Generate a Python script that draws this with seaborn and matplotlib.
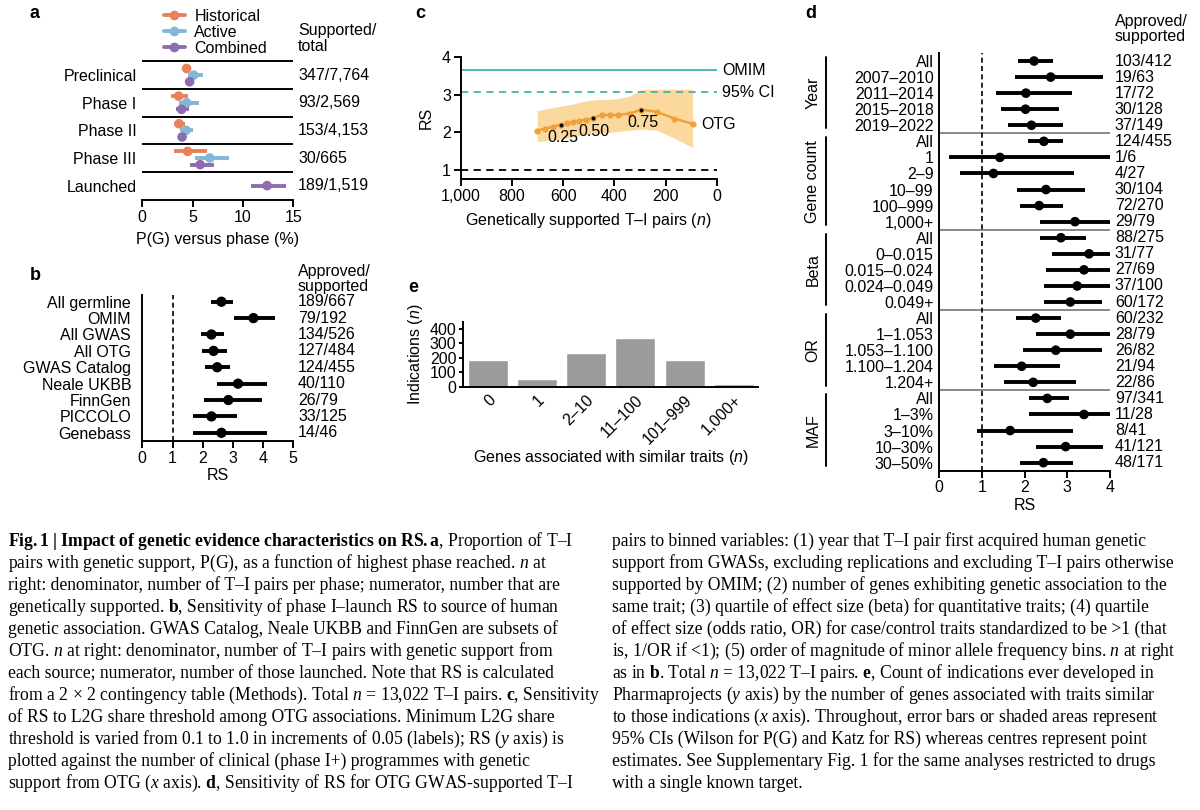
import matplotlib
matplotlib.use("Agg")
import matplotlib.pyplot as plt
import matplotlib.transforms as mtransforms
from matplotlib.lines import Line2D
import seaborn as sns
import pandas as pd

# ---- panel a: P(G) versus phase ----
a_rows = ["Preclinical", "Phase I", "Phase II", "Phase III", "Launched"]
a_counts = ["347/7,764", "93/2,569", "153/4,153", "30/665", "189/1,519"]
a_phase = ["Preclinical"] * 3 + ["Phase I"] * 3 + ["Phase II"] * 3 + ["Phase III"] * 3 + ["Launched"]
a_series = ["Historical", "Active", "Combined"] * 4 + ["Combined"]
a_est = [4.4, 5.1, 4.7, 3.6, 4.4, 3.9, 3.65, 4.35, 3.95, 4.5, 6.7, 5.75, 12.4]
a_lo = [4.0, 4.5, 4.4, 2.9, 3.6, 3.3, 3.1, 3.7, 3.6, 3.1, 5.2, 4.7, 10.8]
a_hi = [4.8, 6.0, 4.95, 4.5, 5.6, 4.6, 4.2, 5.0, 4.3, 6.45, 8.6, 7.1, 14.3]
a_xticks = [0, 5, 10, 15]

# ---- panel b: RS by source ----
b_src = ["All germline", "OMIM", "All GWAS", "All OTG", "GWAS Catalog",
         "Neale UKBB", "FinnGen", "PICCOLO", "Genebass"]
b_counts = ["189/667", "79/192", "134/526", "127/484", "124/455", "40/110", "26/79", "33/125", "14/46"]
b_est = [2.62, 3.68, 2.29, 2.36, 2.48, 3.17, 2.85, 2.29, 2.62]
b_lo = [2.27, 3.05, 1.93, 1.99, 2.07, 2.48, 2.04, 1.67, 1.67]
b_hi = [3.01, 4.40, 2.70, 2.80, 2.90, 4.12, 3.95, 3.12, 4.12]

# ---- panel c: RS vs L2G share threshold ----
c_thresh = [0.10, 0.15, 0.20, 0.25, 0.30, 0.35, 0.40, 0.45, 0.50,
            0.55, 0.60, 0.65, 0.70, 0.75, 0.80, 0.85, 0.90]
c_n = [701, 671, 641, 608, 583, 560, 537, 511, 484, 449, 417, 384, 339, 296, 234, 166, 94]
c_rs = [2.05, 2.10, 2.15, 2.21, 2.24, 2.27, 2.31, 2.34, 2.38, 2.47, 2.46, 2.47, 2.50, 2.61, 2.55, 2.37, 2.23]
c_lo = [1.76, 1.78, 1.80, 1.82, 1.85, 1.88, 1.92, 1.95, 1.97, 1.98, 2.00, 2.03, 2.06, 2.09, 2.06, 1.85, 1.60]
c_hi = [2.58, 2.62, 2.66, 2.70, 2.73, 2.76, 2.80, 2.84, 2.86, 2.88, 2.88, 2.90, 2.97, 3.13, 3.15, 3.15, 3.15]
c_labelled = [0.25, 0.50, 0.75]
c_omim = 3.66
c_omim_ci = 3.07
c_xticks = [1000, 800, 600, 400, 200, 0]

# ---- panel d: RS by binned variables ----
d_group = ["Year"] * 5 + ["Gene count"] * 6 + ["Beta"] * 5 + ["OR"] * 5 + ["MAF"] * 5
d_label = ["All", "2007–2010", "2011–2014", "2015–2018", "2019–2022",
           "All", "1", "2–9", "10–99", "100–999", "1,000+",
           "All", "0–0.015", "0.015–0.024", "0.024–0.049", "0.049+",
           "All", "1–1.053", "1.053–1.100", "1.100–1.204", "1.204+",
           "All", "1–3%", "3–10%", "10–30%", "30–50%"]
d_counts = ["103/412", "19/63", "17/72", "30/128", "37/149",
            "124/455", "1/6", "4/27", "30/104", "72/270", "29/79",
            "88/275", "31/77", "27/69", "37/100", "60/172",
            "60/232", "28/79", "26/82", "21/94", "22/86",
            "97/341", "11/28", "8/41", "41/121", "48/171"]
d_est = [2.22, 2.61, 2.03, 2.02, 2.16, 2.45, 1.42, 1.27, 2.50, 2.34, 3.18, 2.85, 3.51,
         3.39, 3.23, 3.07, 2.26, 3.07, 2.73, 1.93, 2.20, 2.53, 3.39, 1.66, 2.96, 2.44]
d_lo = [1.85, 1.77, 1.32, 1.45, 1.60, 2.07, 0.23, 0.48, 1.81, 1.89, 2.36, 2.36, 2.65,
        2.49, 2.46, 2.46, 1.79, 2.26, 1.97, 1.29, 1.52, 2.11, 2.11, 0.88, 2.26, 1.89]
d_hi = [2.67, 3.83, 3.12, 2.81, 2.89, 2.89, 8.5, 3.16, 3.41, 2.91, 4.3, 3.43, 4.6,
        4.6, 4.2, 3.82, 2.85, 4.2, 3.82, 2.83, 3.20, 3.03, 5.4, 3.14, 3.83, 3.14]

# ---- panel e: indications by gene count ----
e_bins = ["0", "1", "2–10", "11–100", "101–999", "1,000+"]
e_count = [184, 55, 230, 334, 184, 19]

sns.set_theme(style="ticks", rc={
    "axes.edgecolor": "black", "text.color": "black", "axes.labelcolor": "black",
    "xtick.color": "black", "ytick.color": "black",
    "axes.linewidth": 1.4, "xtick.major.width": 1.4, "ytick.major.width": 1.4,
    "xtick.major.size": 5, "ytick.major.size": 5,
})
plt.rcParams["font.family"] = ["Liberation Sans", "DejaVu Sans"]
plt.rcParams.update({
    "mathtext.fontset": "custom",
    "mathtext.rm": "Liberation Serif",
    "mathtext.it": "Liberation Serif:italic",
    "mathtext.bf": "Liberation Serif:bold",
    "mathtext.sf": "Liberation Sans:italic",
})
FS = 11.5

W, H = 1200, 810
fig = plt.figure(figsize=(12, 8.1), dpi=100)


def px_axes(l, t, r, b):
    return fig.add_axes([l / W, 1 - b / H, (r - l) / W, (b - t) / H])


def blend(ax):
    return mtransforms.blended_transform_factory(ax.transAxes, ax.transData)


def ftext(x, y, s, **kw):
    return fig.text(x / W, 1 - y / H, s, **kw)


# ================= a =================
ax_a = px_axes(142.3, 61.3, 293.3, 200)
a_colors = {"Historical": "#E9825B", "Active": "#83B7D8", "Combined": "#8E6CB0"}
shift = {"Historical": -0.24, "Active": 0.0, "Combined": 0.24}
df_a = pd.DataFrame({"phase": a_phase, "series": a_series, "est": a_est, "lo": a_lo, "hi": a_hi})
df_a["y"] = [a_rows.index(p) + (shift[s] if a_phase.count(p) > 1 else 0)
             for p, s in zip(a_phase, a_series)]
ax_a.hlines(df_a["y"], df_a["lo"], df_a["hi"], colors=[a_colors[s] for s in a_series], lw=2.8, zorder=2)
sns.scatterplot(data=df_a, x="est", y="y", hue="series", palette=a_colors, s=48,
                edgecolor="none", legend=False, ax=ax_a, zorder=3)
ax_a.hlines([-0.5, 0.5, 1.5, 2.5, 3.5], 0, 15, color="black", lw=1.4, clip_on=False)
ax_a.set_xlim(0, 15)
ax_a.set_ylim(4.52, -0.5)
ax_a.set_yticks(range(len(a_rows)), a_rows)
ax_a.set_xticks(a_xticks)
ax_a.set_xlabel("P(G) versus phase (%)", fontsize=FS, labelpad=5)
ax_a.set_ylabel("")
sns.despine(ax=ax_a, left=True)
ax_a.tick_params(axis="y", length=0, pad=4, labelsize=FS)
ax_a.tick_params(axis="x", labelsize=FS, pad=2)
for i, t in enumerate(a_counts):
    ax_a.text(1.031, i, t, transform=blend(ax_a), va="center", fontsize=FS)
ftext(298, 23, "Supported/\ntotal", va="top", fontsize=FS, linespacing=1.1)
handles = [Line2D([0], [0], color=a_colors[k], marker="o", lw=2.8, ms=7, mec="none") for k in a_colors]
fig.legend(handles, list(a_colors), loc="upper left", bbox_to_anchor=(164 / W, 1 - 9 / H),
           frameon=False, fontsize=FS, handlelength=1.3, handletextpad=0.6,
           labelspacing=0.05, borderpad=0, borderaxespad=0)

# ================= b =================
ax_b = px_axes(142.3, 295, 293.3, 441)
df_b = pd.DataFrame({"src": b_src, "est": b_est, "lo": b_lo, "hi": b_hi, "y": range(len(b_src))})
ax_b.axvline(1, color="black", lw=1.2, ls=(0, (3, 2)))
ax_b.hlines(df_b["y"], df_b["lo"], df_b["hi"], color="black", lw=2.8, zorder=2)
sns.scatterplot(data=df_b, x="est", y="y", color="black", s=55, edgecolor="none", ax=ax_b, zorder=3)
ax_b.set_xlim(0, 5)
ax_b.set_ylim(8.5, -0.41)
ax_b.set_yticks(range(len(b_src)), b_src)
ax_b.set_xticks(range(6))
ax_b.set_xlabel("RS", fontsize=FS, labelpad=2)
ax_b.set_ylabel("")
sns.despine(ax=ax_b)
ax_b.tick_params(axis="y", length=0, pad=8, labelsize=FS)
ax_b.tick_params(axis="x", labelsize=FS, pad=2)
for i, t in enumerate(b_counts):
    ax_b.text(1.031, i, t, transform=blend(ax_b), va="center", fontsize=FS)
ftext(298, 264, "Approved/\nsupported", va="top", fontsize=FS, linespacing=1.0)

# ================= c =================
ax_c = px_axes(460.7, 57.3, 716.7, 179)
ax_c.fill_between(c_n, c_lo, c_hi, color="#FAD89E", lw=0, zorder=1)
ax_c.axhline(c_omim, color="#4FB4C0", lw=1.4, zorder=2)
ax_c.axhline(c_omim_ci, color="#45B4A6", lw=1.3, ls=(0, (4, 3)), zorder=2)
ax_c.axhline(1, color="black", lw=1.3, ls=(0, (4, 3)), zorder=2)
sns.lineplot(x=c_n, y=c_rs, color="#EFA23C", lw=1.8, marker="o", markersize=4.5,
             markeredgewidth=0, ax=ax_c, zorder=3)
for th, n, rs in zip(c_thresh, c_n, c_rs):
    if th in c_labelled:
        ax_c.plot(n, rs, "o", color="black", ms=1.8, zorder=4)
        ax_c.annotate(f"{th:.2f}", (n, rs), xytext=(-14, -13), textcoords="offset pixels",
                      ha="left", va="center", fontsize=FS)
ax_c.set_xlim(1000, 0)
ax_c.set_ylim(0.76, 4.0)
ax_c.set_xticks(c_xticks, [f"{v:,}" for v in c_xticks])
ax_c.set_yticks([1, 2, 3, 4])
ax_c.set_ylabel("RS", fontsize=FS, labelpad=6)
ax_c.set_xlabel(r"Genetically supported T–I pairs ($\mathsf{n}$)", fontsize=FS, labelpad=5)
sns.despine(ax=ax_c)
ax_c.tick_params(labelsize=FS, pad=2)
ax_c.text(1.021, c_omim, "OMIM", transform=blend(ax_c), va="center", fontsize=FS)
ax_c.text(1.021, c_omim_ci, "95% CI", transform=blend(ax_c), va="center", fontsize=FS)
ax_c.text(62, 2.22, "OTG", va="center", ha="left", fontsize=FS)

# ================= d =================
ax_d = px_axes(939.3, 53.3, 1110, 470.7)
df_d = pd.DataFrame({"group": d_group, "label": d_label, "est": d_est, "lo": d_lo, "hi": d_hi,
                     "y": range(len(d_label))})
ax_d.axvline(1, color="black", lw=1.2, ls=(0, (3, 2)))
ax_d.hlines(df_d["y"], df_d["lo"], df_d["hi"], color="black", lw=2.8, zorder=2)
sns.scatterplot(data=df_d, x="est", y="y", color="black", s=48, edgecolor="none", ax=ax_d, zorder=3)
groups = list(dict.fromkeys(d_group))
for g in groups:
    rows = df_d.index[df_d["group"] == g]
    first, last = rows.min(), rows.max()
    if last < len(d_label) - 1:
        ax_d.axhline(last + 0.5, color="#7F7F7F", lw=1.3, zorder=1)
    ax_d.plot([-0.666, -0.666], [first - 0.25, last + 0.2], color="black", lw=1.4,
              transform=blend(ax_d), clip_on=False)
    ax_d.text(-0.74, (first + last) / 2, g, transform=blend(ax_d), rotation=90,
              ha="center", va="center", fontsize=FS)
ax_d.set_xlim(0, 4)
ax_d.set_ylim(25.5, -0.48)
ax_d.set_yticks(range(len(d_label)), d_label)
ax_d.set_xticks(range(5))
ax_d.set_xlabel("RS", fontsize=FS, labelpad=2)
ax_d.set_ylabel("")
sns.despine(ax=ax_d)
ax_d.tick_params(axis="y", length=0, pad=4, labelsize=FS)
ax_d.tick_params(axis="x", labelsize=FS, pad=2)
for i, t in enumerate(d_counts):
    ax_d.text(1.029, i, t, transform=blend(ax_d), va="center", fontsize=FS)
ftext(1115, 14, "Approved/\nsupported", va="top", fontsize=FS, linespacing=1.0)

# ================= e =================
ax_e = px_axes(463.3, 321.7, 758, 386.7)
sns.barplot(x=e_bins, y=e_count, color="#9B9B9B", saturation=1, width=0.81, ax=ax_e)
ax_e.set_xlim(-0.495, 5.49)
ax_e.set_ylim(0, 448)
ax_e.set_yticks([0, 100, 200, 300, 400])
ax_e.set_xticks(range(len(e_bins)))
ax_e.set_xticklabels(e_bins, rotation=45, ha="right", va="top", rotation_mode="anchor")
ax_e.set_ylabel(r"Indications ($\mathsf{n}$)", fontsize=FS, labelpad=3)
ax_e.set_xlabel(r"Genes associated with similar traits ($\mathsf{n}$)", fontsize=FS, labelpad=1)
sns.despine(ax=ax_e)
ax_e.tick_params(axis="x", length=0, pad=4, labelsize=FS)
ax_e.tick_params(axis="y", length=3, pad=2, labelsize=FS)

# panel letters
for lab, x, y in [("a", 35, 14), ("b", 35, 275), ("c", 420, 13), ("d", 811, 14), ("e", 413, 287)]:
    ftext(x, y, lab, fontsize=13, fontweight="bold", ha="center", va="center")

# ================= caption =================


def rich(runs):
    out = ""
    for txt, st in runs:
        if st == "":
            out += txt
        else:
            cmd = {"b": r"\mathbf", "i": r"\mathit"}[st]
            # mathtext already pads after a full stop
            body = txt.replace(". ", ".").replace(" ", r"\ ")
            out += "$" + cmd + "{" + body + "}$"
    return out


cap_left = [
    [("Fig. 1 | Impact of genetic evidence characteristics on RS. a", "b"), (", Proportion of T–I", "")],
    [("pairs with genetic support, P(G), as a function of highest phase reached. ", ""), ("n", "i"), (" at", "")],
    [("right: denominator, number of T–I pairs per phase; numerator, number that are", "")],
    [("genetically supported. ", ""), ("b", "b"), (", Sensitivity of phase I–launch RS to source of human", "")],
    [("genetic association. GWAS Catalog, Neale UKBB and FinnGen are subsets of", "")],
    [("OTG. ", ""), ("n", "i"), (" at right: denominator, number of T–I pairs with genetic support from", "")],
    [("each source; numerator, number of those launched. Note that RS is calculated", "")],
    [("from a 2 × 2 contingency table (Methods). Total ", ""), ("n", "i"),
     (" = 13,022 T–I pairs. ", ""), ("c", "b"), (", Sensitivity", "")],
    [("of RS to L2G share threshold among OTG associations. Minimum L2G share", "")],
    [("threshold is varied from 0.1 to 1.0 in increments of 0.05 (labels); RS (", ""), ("y", "i"), (" axis) is", "")],
    [("plotted against the number of clinical (phase I+) programmes with genetic", "")],
    [("support from OTG (", ""), ("x", "i"), (" axis). ", ""), ("d", "b"),
     (", Sensitivity of RS for OTG GWAS-supported T–I", "")],
]
cap_right = [
    [("pairs to binned variables: (1) year that T–I pair first acquired human genetic", "")],
    [("support from GWASs, excluding replications and excluding T–I pairs otherwise", "")],
    [("supported by OMIM; (2) number of genes exhibiting genetic association to the", "")],
    [("same trait; (3) quartile of effect size (beta) for quantitative traits; (4) quartile", "")],
    [("of effect size (odds ratio, OR) for case/control traits standardized to be >1 (that", "")],
    [("is, 1/OR if <1); (5) order of magnitude of minor allele frequency bins. ", ""), ("n", "i"), (" at right", "")],
    [("as in ", ""), ("b", "b"), (". Total ", ""), ("n", "i"), (" = 13,022 T–I pairs. ", ""), ("e", "b"),
     (", Count of indications ever developed in", "")],
    [("Pharmaprojects (", ""), ("y", "i"), (" axis) by the number of genes associated with traits similar", "")],
    [("to those indications (", ""), ("x", "i"), (" axis). Throughout, error bars or shaded areas represent", "")],
    [("95% CIs (Wilson for P(G) and Katz for RS) whereas centres represent point", "")],
    [("estimates. See Supplementary Fig. 1 for the same analyses restricted to drugs", "")],
    [("with a single known target.", "")],
]
for x0, lines in [(8, cap_left), (612, cap_right)]:
    for i, runs in enumerate(lines):
        ftext(x0, 546 + 22 * i, rich(runs), fontsize=12.7, family="Liberation Serif", va="baseline")

fig.savefig("out.png", dpi=100)
